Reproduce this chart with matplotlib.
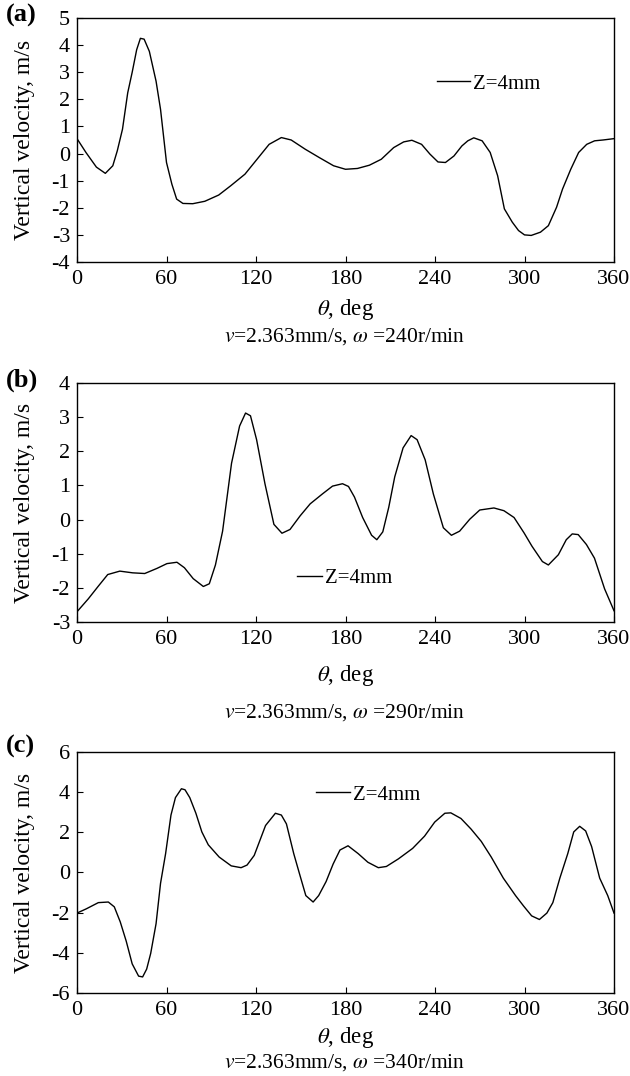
import numpy as np
import matplotlib
matplotlib.use("Agg")
import matplotlib.pyplot as plt

plt.rcParams['font.family'] = ['Liberation Serif', 'DejaVu Serif']
plt.rcParams['mathtext.fontset'] = 'stix'
plt.rcParams['axes.unicode_minus'] = False

# panel (a), omega = 240 r/min
theta_a = [0, 6, 13, 19, 24, 27, 30.5, 34, 37, 40, 42.5, 45, 48.5, 53, 56, 60, 63.6, 66.8, 71, 77.6,
           85.7, 95, 103, 112.6, 120.7, 128.8, 137, 143.6, 153, 162.5, 172, 180, 188, 196, 204, 212.3,
           219, 224.5, 231, 236.6, 242, 247, 252.7, 258, 262, 266, 271.6, 277, 282, 286.5, 291.8, 296,
           300, 304.5, 310.7, 316, 321.5, 325.5, 331, 336.3, 341.7, 347, 352.6, 360]
vel_a = [0.55, 0.04, -0.5, -0.73, -0.45, 0.1, 0.9, 2.24, 3.0, 3.83, 4.25, 4.22, 3.77, 2.67, 1.63, -0.33,
         -1.13, -1.68, -1.84, -1.85, -1.76, -1.53, -1.19, -0.76, -0.21, 0.34, 0.59, 0.5, 0.16, -0.15,
         -0.45, -0.58, -0.55, -0.43, -0.21, 0.22, 0.43, 0.49, 0.34, -0.02, -0.31, -0.33, -0.09, 0.28,
         0.47, 0.58, 0.47, 0.04, -0.82, -2.04, -2.53, -2.84, -3.0, -3.02, -2.9, -2.66, -1.98, -1.31,
         -0.58, 0.04, 0.34, 0.47, 0.5, 0.55]

# panel (b), omega = 290 r/min
theta_b = [0, 7.6, 14.3, 20.6, 28.7, 37.3, 45.4, 53.6, 60.3, 67, 72, 77.9, 84.7, 88.7, 92.8, 97.6, 103.6,
           109, 113, 116.3, 120.4, 126, 132, 137.4, 142.8, 149.6, 156.3, 164.5, 171.3, 178, 182, 186,
           191.5, 197.5, 201, 205, 209, 213, 218.6, 224, 228, 233.4, 238.9, 245.6, 251, 256.5, 263.3,
           270, 279.5, 286.2, 293, 299.7, 305, 312, 316, 322.7, 328, 332, 336, 341.5, 346.9, 353.7, 360]
vel_b = [-2.7, -2.32, -1.95, -1.61, -1.51, -1.56, -1.58, -1.43, -1.29, -1.25, -1.41, -1.73, -1.96, -1.88,
         -1.33, -0.34, 1.65, 2.74, 3.12, 3.04, 2.34, 1.05, -0.14, -0.4, -0.29, 0.11, 0.46, 0.75, 0.98,
         1.05, 0.97, 0.66, 0.06, -0.46, -0.59, -0.36, 0.36, 1.25, 2.1, 2.46, 2.34, 1.75, 0.75, -0.24,
         -0.46, -0.34, 0.01, 0.28, 0.34, 0.26, 0.06, -0.39, -0.78, -1.23, -1.33, -1.03, -0.59, -0.42,
         -0.44, -0.73, -1.13, -2.03, -2.67]

# panel (c), omega = 340 r/min
theta_c = [0, 6.2, 14.3, 21, 25, 29, 33, 37, 41.3, 44, 46.7, 49.4, 53, 56, 59.4, 63, 66, 70, 72.4, 75.6,
           79.7, 83.7, 88, 95.3, 103.4, 110, 114, 118.8, 126.4, 133, 137, 140.4, 145.3, 149.3, 153.4,
           158.3, 162, 167, 171.7, 176.3, 181.7, 188.5, 195, 202, 207.4, 215.5, 225, 233, 239.8, 246.6,
           250.6, 257.4, 264.2, 271, 277.7, 285.8, 294, 299.4, 304.8, 310, 315, 319, 323.7, 329, 333,
           337, 341, 345, 350.4, 355.8, 360]
vel_c = [-2.02, -1.81, -1.5, -1.47, -1.71, -2.46, -3.42, -4.55, -5.16, -5.2, -4.81, -4.03, -2.55, -0.54,
         0.94, 2.86, 3.73, 4.17, 4.12, 3.73, 2.95, 2.02, 1.38, 0.77, 0.33, 0.24, 0.37, 0.85, 2.34, 2.95,
         2.86, 2.42, 0.94, -0.1, -1.15, -1.47, -1.15, -0.45, 0.42, 1.12, 1.33, 0.94, 0.51, 0.24, 0.3,
         0.68, 1.2, 1.81, 2.51, 2.95, 2.97, 2.69, 2.16, 1.55, 0.77, -0.28, -1.15, -1.67, -2.16, -2.34,
         -2.02, -1.5, -0.28, 0.94, 2.02, 2.3, 2.07, 1.29, -0.28, -1.15, -2.02]

panels = [
    ('(a)', theta_a, vel_a, (-4, 5), 1, '240'),
    ('(b)', theta_b, vel_b, (-3, 4), 1, '290'),
    ('(c)', theta_c, vel_c, (-6, 6), 2, '340'),
]
# axes boxes in pixels: left, top, right, bottom
boxes = [(77, 18, 614, 262), (77, 383, 614, 622), (77, 752, 614, 993)]
leg_pos = [(0.670, 0.73, 1.6), (0.41, 0.184, 1.2), (0.445, 0.822, 1.65)]
xlab_y = [309, 676, 1038]
sub_y = [337, 713, 1063]
tag_y = [15, 380, 746]

W, H = 630, 1076
fig = plt.figure(figsize=(W / 100, H / 100), dpi=100)

for i, (tag, th, vel, ylim, step, omega) in enumerate(panels):
    l, t, r, b = boxes[i]
    ax = fig.add_axes([l / W, 1 - b / H, (r - l) / W, (b - t) / H])
    ax.plot(th, vel, color='black', lw=1.0, label='Z=4mm')
    ax.set_xlim(0, 360)
    ax.set_ylim(*ylim)
    ax.set_xticks(np.arange(0, 361, 60))
    ax.set_yticks(np.arange(ylim[0], ylim[1] + 0.1, step))
    ax.tick_params(direction='in', length=4, width=0.8, labelsize=16, pad=5)
    ax.tick_params(axis='x', pad=6)
    for s in ax.spines.values():
        s.set_linewidth(1.0)
    ax.set_ylabel('Vertical velocity, m/s', fontsize=17, labelpad=12)
    lx, ly, hl = leg_pos[i]
    ax.legend(loc='center left', bbox_to_anchor=(lx, ly), frameon=False, fontsize=15,
              handlelength=hl, handletextpad=0.15, borderpad=0, borderaxespad=0)
    fig.text((l + r) / 2 / W, 1 - xlab_y[i] / H, r'$\theta$, deg', fontsize=16.5,
             ha='center', va='center')
    fig.text(345 / W, 1 - sub_y[i] / H, r'$v$=2.363mm/s, $\omega$ =' + omega + 'r/min',
             fontsize=15.5, ha='center', va='center')
    fig.text(6 / W, 1 - tag_y[i] / H, tag, fontsize=19, fontweight='bold',
             ha='left', va='center')

fig.savefig('out.png', dpi=100)
